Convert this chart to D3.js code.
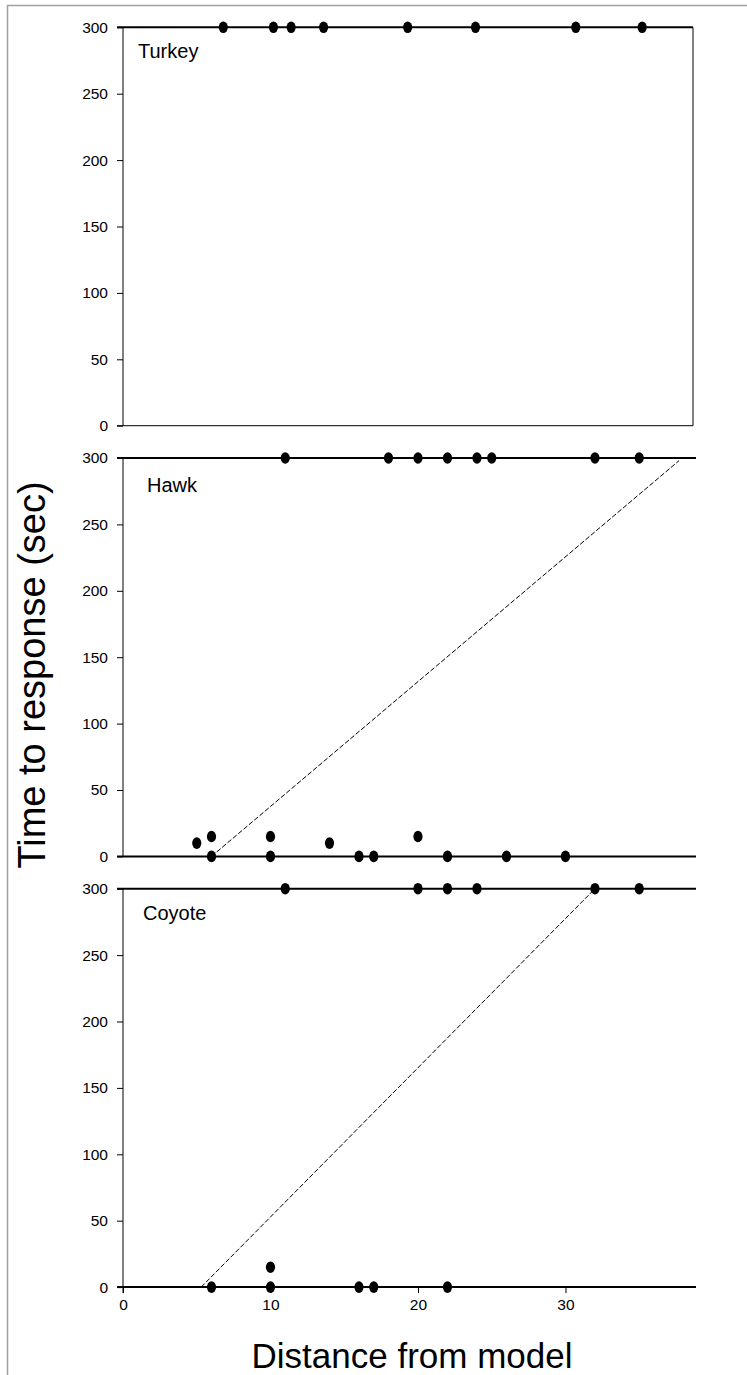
<!DOCTYPE html>
<html>
<head>
<meta charset="utf-8">
<script src="https://cdn.jsdelivr.net/npm/d3@7"></script>
<style>
  html, body { margin: 0; padding: 0; background: #fff; }
  svg { display: block; }
  text { font-family: "Liberation Sans", Arial, sans-serif; fill: #000; }
</style>
</head>
<body>
<script>
// ---- data ----
const panelNames = ["Turkey", "Hawk", "Coyote"];
const xTickValues = [0, 10, 20, 30];
const yTickValues = [0, 50, 100, 150, 200, 250, 300];

const turkeyX = [6.8, 10.2, 11.4, 13.6, 19.3, 23.9, 30.7, 35.2];
const turkeyY = [300, 300, 300, 300, 300, 300, 300, 300];

const hawkX = [11, 18, 20, 22, 24, 25, 32, 35, 5, 6, 10, 14, 20, 6, 10, 16, 17, 22, 26, 30];
const hawkY = [300, 300, 300, 300, 300, 300, 300, 300, 10, 15, 15, 10, 15, 0, 0, 0, 0, 0, 0, 0];

const coyoteX = [11, 20, 22, 24, 32, 35, 10, 6, 10, 16, 17, 22];
const coyoteY = [300, 300, 300, 300, 300, 300, 15, 0, 0, 0, 0, 0];

const hawkFitX = [6, 37.7];
const hawkFitY = [0, 298];
const coyoteFitX = [5.3, 32];
const coyoteFitY = [0, 300];

const xTitle = "Distance from model";
const yTitle = "Time to response (sec)";

// ---- layout ----
const W = 747, H = 1375;
const panelTop0 = 27.3, panelStep = 430.7, panelH = 398.4;
const labelOffsets = [{dx: 15, dy: 31}, {dx: 24, dy: 34}, {dx: 20, dy: 31}];

const panels = [
  {name: panelNames[0], xs: turkeyX, ys: turkeyY, fitX: null, fitY: null, box: true},
  {name: panelNames[1], xs: hawkX, ys: hawkY, fitX: hawkFitX, fitY: hawkFitY, box: false},
  {name: panelNames[2], xs: coyoteX, ys: coyoteY, fitX: coyoteFitX, fitY: coyoteFitY, box: false}
];

const svg = d3.select("body").append("svg").attr("width", W).attr("height", H);

// outer gray frame
svg.append("rect").attr("x", 7.5).attr("y", 5.5).attr("width", W + 20).attr("height", H + 20)
  .attr("fill", "none").attr("stroke", "#a0a0a0").attr("stroke-width", 1.5);

const x = d3.scaleLinear().domain([0, 38.85]).range([123, 696]);
const frameRight = 693;

panels.forEach((p, i) => {
  const top = panelTop0 + i * panelStep;
  const y = d3.scaleLinear().domain([0, 300]).range([top + panelH, top]);
  const g = svg.append("g");

  // left axis with outward ticks
  const yAxis = d3.axisLeft(y).tickValues(yTickValues).tickSize(6).tickPadding(9);
  const ga = g.append("g").attr("transform", `translate(${x(0)},0)`).call(yAxis);
  ga.select(".domain").remove();
  ga.selectAll(".tick line").attr("stroke", "#000").attr("stroke-width", 1);
  ga.selectAll(".tick text").attr("font-size", 15.5).attr("font-family", "Liberation Sans, Arial, sans-serif").attr("fill", "#000");

  // left axis line
  g.append("line").attr("x1", x(0)).attr("x2", x(0))
    .attr("y1", y(300)).attr("y2", y(0) + (i === 2 ? 6 : 0))
    .attr("stroke", "#000").attr("stroke-width", 1);

  // top (300) and bottom (0) lines
  const right = p.box ? frameRight : x.range()[1];
  g.append("line").attr("x1", x(0) - 6).attr("x2", right).attr("y1", y(300)).attr("y2", y(300))
    .attr("stroke", "#000").attr("stroke-width", 2);
  g.append("line").attr("x1", x(0) - 6).attr("x2", right).attr("y1", y(0)).attr("y2", y(0))
    .attr("stroke", "#000").attr("stroke-width", p.box ? 1 : 2);
  if (p.box) {
    g.append("line").attr("x1", frameRight).attr("x2", frameRight).attr("y1", y(300)).attr("y2", y(0))
      .attr("stroke", "#000").attr("stroke-width", 1);
  }

  // fit line
  if (p.fitX) {
    const pts = p.fitX.map((d, k) => [d, p.fitY[k]]);
    g.append("path")
      .attr("d", d3.line().x(d => x(d[0])).y(d => y(d[1]))(pts))
      .attr("fill", "none").attr("stroke", "#000").attr("stroke-width", 1)
      .attr("stroke-dasharray", "5,2");
  }

  // points
  g.selectAll("ellipse.pt").data(p.xs.map((d, k) => [d, p.ys[k]])).enter()
    .append("ellipse").attr("class", "pt")
    .attr("cx", d => x(d[0])).attr("cy", d => y(d[1]))
    .attr("rx", 4.6).attr("ry", 5.8).attr("fill", "#000");

  // panel label
  g.append("text").attr("x", x(0) + labelOffsets[i].dx).attr("y", top + labelOffsets[i].dy)
    .attr("font-size", 20).text(p.name);

  // x axis on bottom panel
  if (i === 2) {
    const xAxis = d3.axisBottom(x).tickValues(xTickValues).tickSize(6).tickPadding(6);
    const gx = g.append("g").attr("transform", `translate(0,${y(0)})`).call(xAxis);
    gx.select(".domain").remove();
    gx.selectAll(".tick line").attr("stroke", "#000").attr("stroke-width", 1);
    gx.selectAll(".tick text").attr("font-size", 15.5).attr("font-family", "Liberation Sans, Arial, sans-serif").attr("fill", "#000");
  }
});

// axis titles
svg.append("text").attr("x", 412).attr("y", 1368).attr("text-anchor", "middle")
  .attr("font-size", 35).text(xTitle);
svg.append("text").attr("transform", "translate(45,675) rotate(-90)").attr("text-anchor", "middle")
  .attr("font-size", 38).text(yTitle);
</script>
</body>
</html>
